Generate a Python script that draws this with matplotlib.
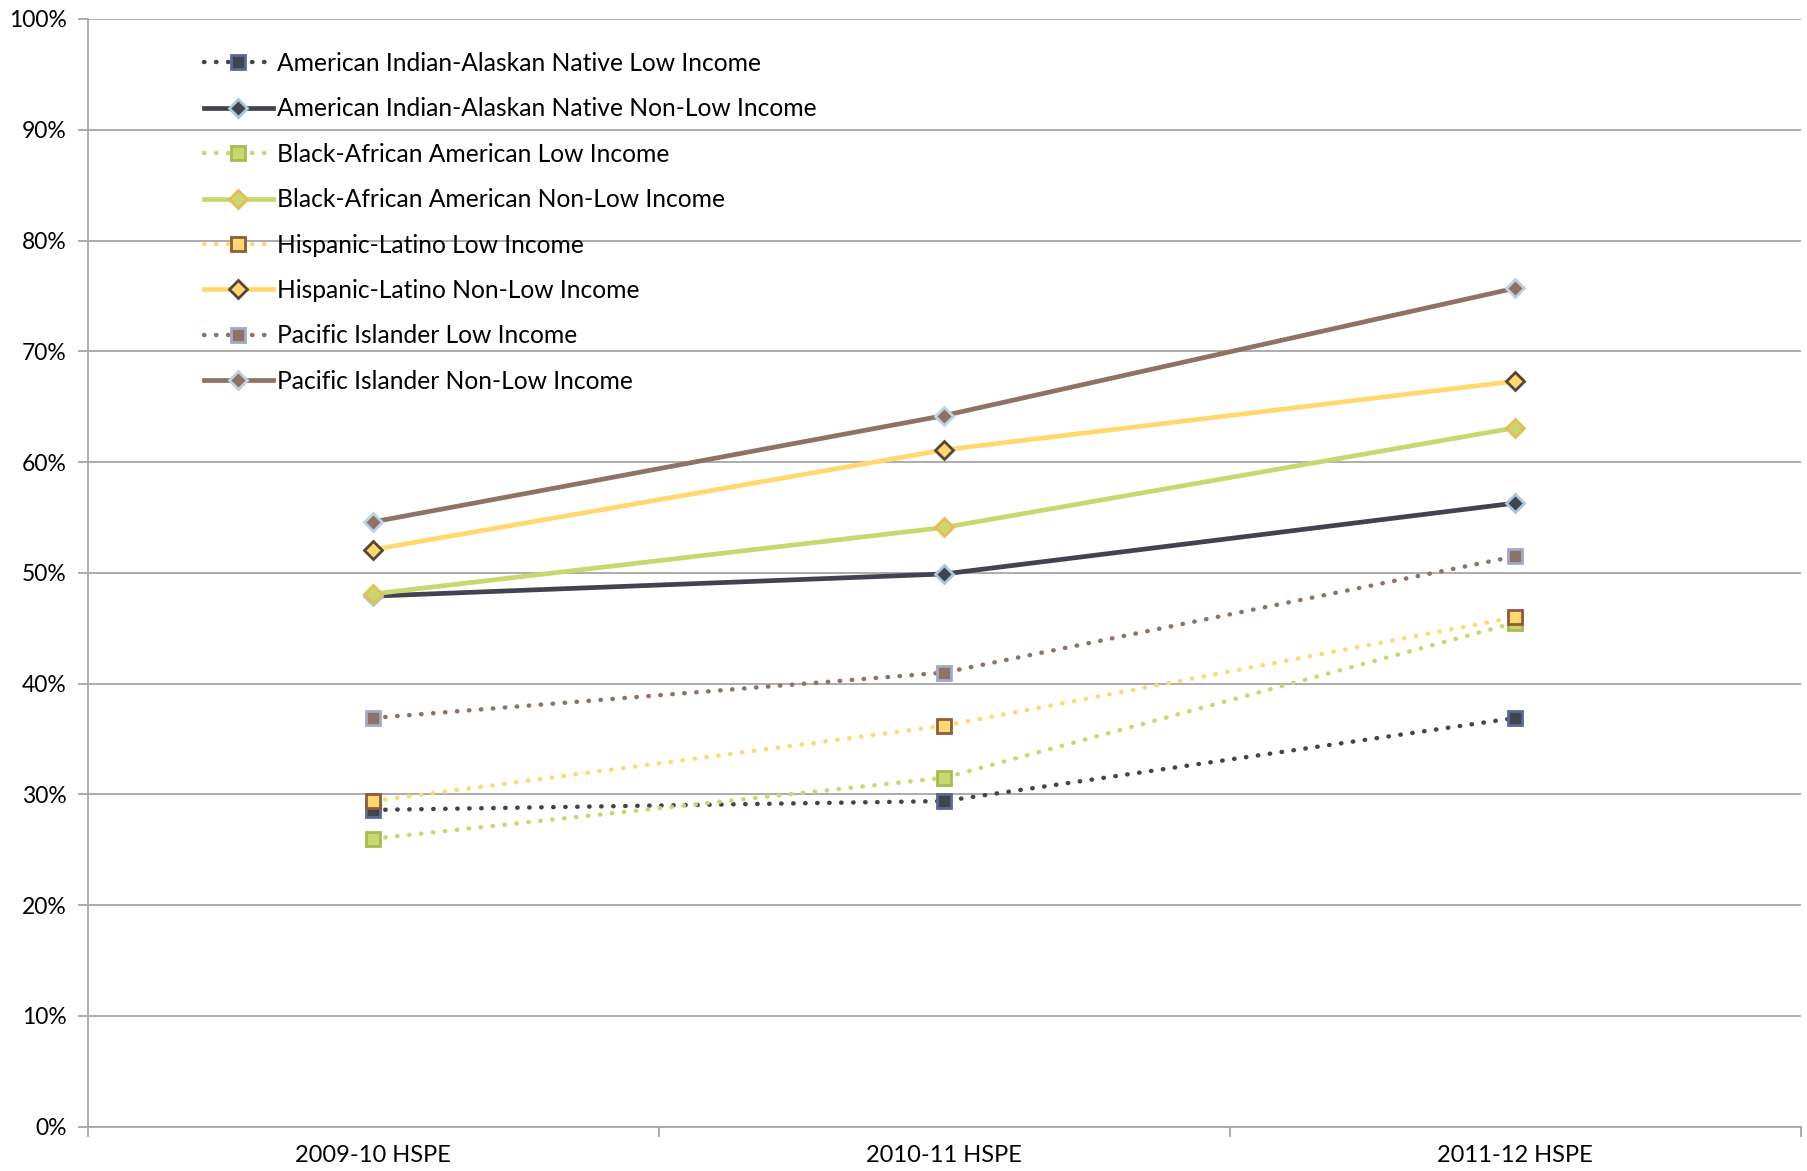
import matplotlib
matplotlib.use('Agg')
import matplotlib.pyplot as plt
from matplotlib.ticker import PercentFormatter

plt.rcParams['font.family'] = ['Lato', 'DejaVu Sans']

# dados
anos = ['2009-10 HSPE', '2010-11 HSPE', '2011-12 HSPE']

ai_low = [28.6, 29.4, 36.9]
ai_nonlow = [47.9, 49.9, 56.3]
black_low = [26.0, 31.5, 45.5]
black_nonlow = [48.1, 54.1, 63.1]
hisp_low = [29.4, 36.2, 46.0]
hisp_nonlow = [52.1, 61.1, 67.3]
pi_low = [36.9, 41.0, 51.5]
pi_nonlow = [54.6, 64.2, 75.7]

nomes = ['American Indian-Alaskan Native Low Income',
         'American Indian-Alaskan Native Non-Low Income',
         'Black-African American Low Income',
         'Black-African American Non-Low Income',
         'Hispanic-Latino Low Income',
         'Hispanic-Latino Non-Low Income',
         'Pacific Islander Low Income',
         'Pacific Islander Non-Low Income']

series = [ai_low, ai_nonlow, black_low, black_nonlow,
          hisp_low, hisp_nonlow, pi_low, pi_nonlow]

# cor da linha, cor da borda do marcador
cores = ['#41434F', '#41434F', '#C9D86E', '#C9D86E',
         '#FFD86E', '#FFD86E', '#8E7265', '#8E7265']
bordas = ['#5B6894', '#A9C6DA', '#A9BA4F', '#E2BE55',
          '#8E5B3E', '#574636', '#A2A9C6', '#BBD2E2']

fig = plt.figure(figsize=(18.08, 11.71), dpi=100)
ax = fig.add_axes([0.0485, 0.0378, 0.9475, 0.946])

x = [0.5, 1.5, 2.5]
for i, (vals, nome) in enumerate(zip(series, nomes)):
    if i % 2 == 0:
        ax.plot(x, vals, linestyle=(0, (0.1, 2.6)), dash_capstyle='round',
                linewidth=3.2, color=cores[i], marker='s', markersize=10,
                markerfacecolor=cores[i], markeredgecolor=bordas[i],
                markeredgewidth=2, label=nome, zorder=3)
    else:
        ax.plot(x, vals, linestyle='-', linewidth=3.4, color=cores[i],
                marker='D', markersize=9, markerfacecolor=cores[i],
                markeredgecolor=bordas[i], markeredgewidth=2,
                label=nome, zorder=3)

ax.set_xlim(0, 3)
ax.set_ylim(0, 100)
ax.set_yticks(range(0, 101, 10))
ax.yaxis.set_major_formatter(PercentFormatter(decimals=0))
ax.yaxis.grid(True, color='#A6A6A6', linewidth=1.3)
ax.set_axisbelow(True)

ax.set_xticks([0, 1, 2, 3])
ax.set_xticklabels([])
ax.set_xticks(x, minor=True)
ax.set_xticklabels(anos, minor=True)
ax.tick_params(axis='x', which='minor', length=0, pad=13, labelsize=17)
ax.tick_params(axis='x', which='major', length=7, color='#A6A6A6', width=1.3)
ax.tick_params(axis='y', length=7, color='#A6A6A6', width=1.3, labelsize=16.5, pad=8)

for s in ['top', 'right']:
    ax.spines[s].set_visible(False)
ax.spines['left'].set_color('#A6A6A6')
ax.spines['left'].set_linewidth(1.3)
ax.spines['bottom'].set_color('#A6A6A6')
ax.spines['bottom'].set_linewidth(1.3)

leg = ax.legend(loc='upper left', bbox_to_anchor=(0.062, 0.979), frameon=False,
                fontsize=17.7, handlelength=2.8, handletextpad=0.2,
                labelspacing=0.91, borderaxespad=0)

fig.savefig('out.png', dpi=100)
